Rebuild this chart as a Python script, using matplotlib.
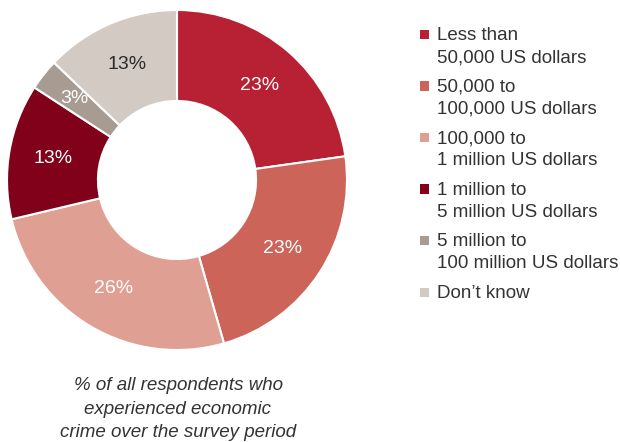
import numpy as np
import matplotlib.pyplot as plt
from matplotlib.patches import Rectangle

plt.rcParams['font.family'] = ['Liberation Sans', 'DejaVu Sans']

# loss bands for reported economic crime
categories = [
    "Less than\n50,000 US dollars",
    "50,000 to\n100,000 US dollars",
    "100,000 to\n1 million US dollars",
    "1 million to\n5 million US dollars",
    "5 million to\n100 million US dollars",
    "Don\u2019t know",
]
shares = [23, 23, 26, 13, 3, 13]
colors = ["#b82034", "#cc6459", "#e09f93", "#82011a", "#a89b91", "#d3cbc3"]
label_colors = ["white", "white", "white", "white", "white", "#2b2b2b"]

W, H = 620, 442
fig = plt.figure(figsize=(W / 100, H / 100), dpi=100)

# donut
ax = fig.add_axes([7 / W, (H - 350) / H, 340 / W, 340 / H])
wedges, texts = ax.pie(
    shares, colors=colors, startangle=90, counterclock=False,
    radius=1.0, wedgeprops=dict(width=0.535, edgecolor="white", linewidth=1.5),
)
for w, val, tc in zip(wedges, shares, label_colors):
    ang = np.deg2rad((w.theta1 + w.theta2) / 2)
    r = 0.77 if val < 5 else 0.74
    ax.text(r * np.cos(ang), r * np.sin(ang), f"{val}%", ha="center", va="center",
            color=tc, fontsize=14)
ax.set_xlim(-1, 1)
ax.set_ylim(-1, 1)
ax.set_aspect("equal")
ax.axis("off")

# legend on the right
x_sq, x_txt = 420, 437
y0, step = 34.5, 51.5
for i, (lab, c) in enumerate(zip(categories, colors)):
    y = y0 + i * step
    fig.patches.append(Rectangle((x_sq / W, 1 - (y + 4.5) / H), 9 / W, 9 / H,
                                 transform=fig.transFigure, facecolor=c, edgecolor="none"))
    fig.text(x_txt / W, 1 - (y - 7) / H, lab, ha="left", va="top", fontsize=13.5,
             color="#333333", linespacing=1.35)

# caption under the donut
fig.text(178 / W, 1 - 377 / H,
         "% of all respondents who\nexperienced economic\ncrime over the survey period",
         ha="center", va="top", fontsize=13.5, style="italic", color="#333333",
         linespacing=1.5)

fig.savefig("out.png", dpi=100)
